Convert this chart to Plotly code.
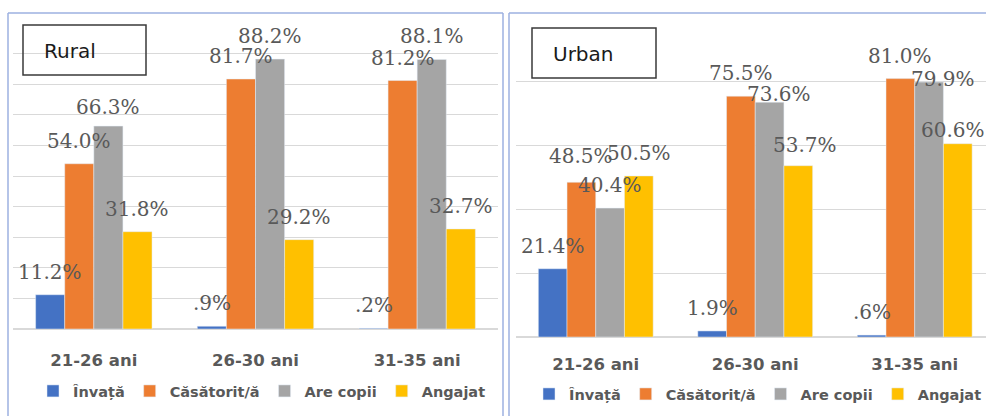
import plotly.graph_objects as go

W, H = 986, 416

age_groups = ["21-26 ani", "26-30 ani", "31-35 ani"]
series = ["Învață", "Căsătorit/ă", "Are copii", "Angajat"]
colors = ["#4472C4", "#ED7D31", "#A5A5A5", "#FFC000"]

rural_invata = [11.2, 0.9, 0.2]
rural_casatorit = [54.0, 81.7, 81.2]
rural_copii = [66.3, 88.2, 88.1]
rural_angajat = [31.8, 29.2, 32.7]

urban_invata = [21.4, 1.9, 0.6]
urban_casatorit = [48.5, 75.5, 81.0]
urban_copii = [40.4, 73.6, 79.9]
urban_angajat = [50.5, 53.7, 60.6]

rural = [rural_invata, rural_casatorit, rural_copii, rural_angajat]
urban = [urban_invata, urban_casatorit, urban_copii, urban_angajat]

BARGAP = 0.28
LABEL_DY = 23
# Excel nudged a few labels to avoid overlaps: (panel, series idx, group idx) -> (dx, dy)
nudge = {
    ("x", 2, 0): (0, 19),
    ("x2", 1, 0): (0, 26),
    ("x2", 2, 1): (9, 8),
    ("x2", 3, 1): (7, 21),
    ("x2", 2, 2): (14, 3),
    ("x2", 3, 2): (-5, 14),
}


def pct(v):
    s = f"{v:.1f}%"
    return s[1:] if s.startswith("0") else s


def py(p):
    # pixel row -> paper y
    return 1 - p / H


fig = go.Figure()
annotations = []

for xa, ya, leg, data in [("x", "y", "legend", rural), ("x2", "y2", "legend2", urban)]:
    for i, (name, col, vals) in enumerate(zip(series, colors, data)):
        fig.add_trace(go.Bar(x=age_groups, y=vals, name=name, marker_color=col,
                             xaxis=xa, yaxis=ya, legend=leg))
        bw = (1 - BARGAP) / 4
        for j, v in enumerate(vals):
            dx, dy = nudge.get((xa, i, j), (0, LABEL_DY))
            annotations.append(dict(
                x=j + (i - 1.5) * bw, y=v, xref=xa, yref=ya, text=pct(v),
                showarrow=False, xanchor="center", yanchor="middle",
                xshift=dx, yshift=dy,
                font=dict(family="DejaVu Serif", size=20, color="#595959")))

# panel titles
for txt, x0, y0, x1, y1 in [("Rural", 23, 25, 146, 75), ("Urban", 532, 28, 656, 78)]:
    annotations.append(dict(x=(x0 + 19) / W, y=py((y0 + y1) / 2 + 1), xref="paper", yref="paper",
                            text=txt, showarrow=False, xanchor="left", yanchor="middle",
                            font=dict(family="DejaVu Sans", size=20, color="#1a1a1a")))

shapes = [
    dict(type="rect", xref="paper", yref="paper", x0=23 / W, x1=146 / W,
         y0=py(75), y1=py(25), line=dict(color="#3a3a3a", width=1.5)),
    dict(type="rect", xref="paper", yref="paper", x0=532 / W, x1=656 / W,
         y0=py(78), y1=py(28), line=dict(color="#3a3a3a", width=1.5)),
]
border = "#9DB1E0"
for x0, y0, x1, y1 in [(8, 13, 503, 13), (8, 13, 8, 416), (503, 13, 503, 416),
                       (509, 13, 509, 416), (509, 13, 986, 13)]:
    shapes.append(dict(type="line", xref="paper", yref="paper", x0=x0 / W, x1=x1 / W,
                       y0=py(y0), y1=py(y1), line=dict(color=border, width=1.5)))

tickfont = dict(family="DejaVu Sans", size=16.5, color="#595959", weight="bold")
legfont = dict(family="DejaVu Sans", size=14.5, color="#595959", weight="bold")
grid = "#D9D9D9"

fig.update_layout(
    width=W, height=H, margin=dict(l=0, r=0, t=0, b=0, autoexpand=False),
    paper_bgcolor="white", plot_bgcolor="white",
    barmode="group", bargap=BARGAP, bargroupgap=0,
    xaxis=dict(domain=[13 / W, 498 / W], range=[-0.5, 2.5], tickfont=tickfont,
               showgrid=False, ticks="", ticklabelstandoff=19, anchor="y"),
    yaxis=dict(domain=[py(329), py(23)], range=[0, 100], dtick=10,
               showticklabels=False, gridcolor=grid, zerolinecolor=grid, anchor="x"),
    xaxis2=dict(domain=[516 / W, 1.0], range=[-0.5, 2.447], tickfont=tickfont,
                showgrid=False, ticks="", ticklabelstandoff=15, anchor="y2"),
    yaxis2=dict(domain=[py(337), py(18)], range=[0, 100], dtick=20,
                showticklabels=False, gridcolor=grid, zerolinecolor=grid, anchor="x2"),
    legend=dict(orientation="h", x=262 / W, xanchor="center", y=py(391), yanchor="middle",
                font=legfont, itemclick=False, bgcolor="rgba(0,0,0,0)"),
    legend2=dict(orientation="h", x=758 / W, xanchor="center", y=py(394), yanchor="middle",
                 font=legfont, itemclick=False, bgcolor="rgba(0,0,0,0)"),
    annotations=annotations,
    shapes=shapes,
    showlegend=True,
)

# drop the browser's default 8px body margin so the figure sits at the page corner
fig.write_html("out.html", config={"displayModeBar": False},
               post_script="document.body.style.margin='0';document.body.style.overflow='hidden';")
